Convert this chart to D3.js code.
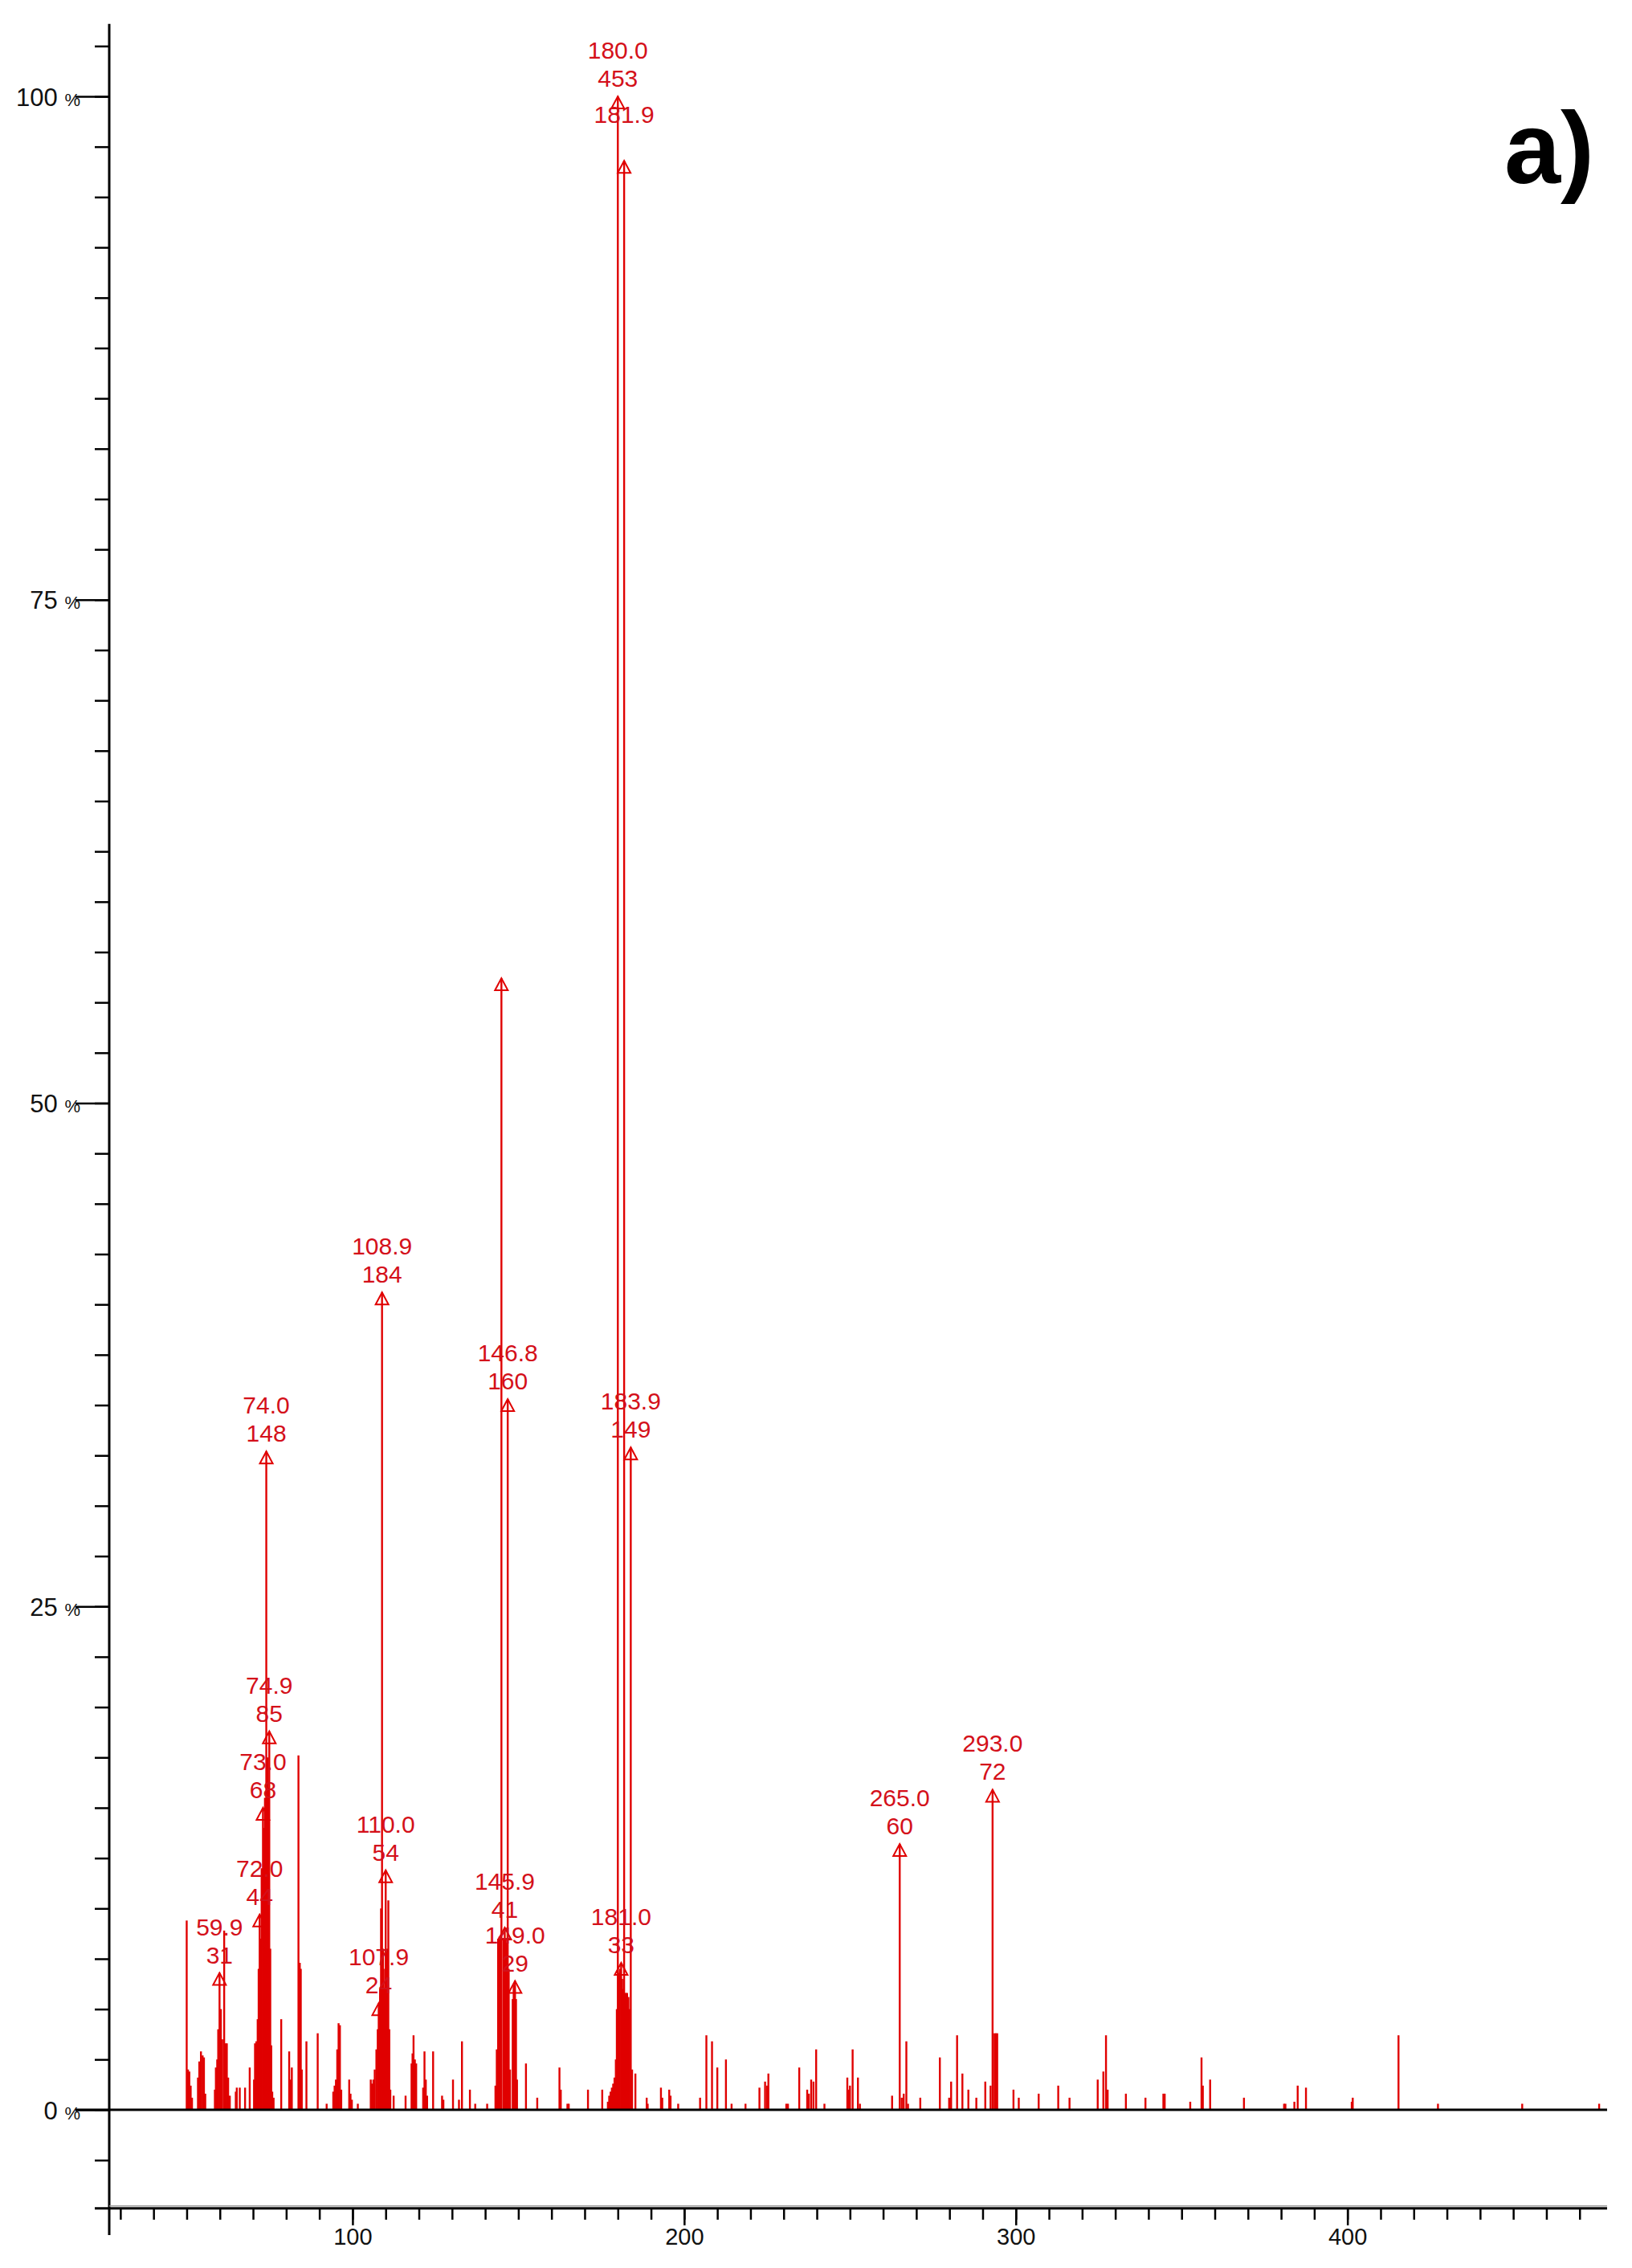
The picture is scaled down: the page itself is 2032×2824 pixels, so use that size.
<!DOCTYPE html>
<html><head><meta charset="utf-8">
<script src="https://cdn.jsdelivr.net/npm/d3@7"></script>
<style>html,body{margin:0;padding:0;background:#fff;} svg{display:block;}</style>
</head><body>
<svg id="chart" width="2032" height="2824"></svg>
<script>
// ---------- DATA ----------
// unlabeled spectrum lines: m/z and relative intensity (%)
const peakMz = [
  50.0,50.4,50.8,51.2,51.6, 53.4,53.8,54.3,54.8,55.2,55.6,
  58.5,58.8,59.2,59.5,60.3,60.7,61.3,61.7,62.1,62.5,63.0,
  64.8,65.1,66.0,67.6,69.0,
  70.3,70.6,71.0,71.4,71.7,72.3,72.6,73.3,73.6,74.3,74.6,75.2,75.5,75.8,76.2,
  78.5,80.9,81.3,81.7,83.7,84.1,84.4,84.7,86.1,89.5,92.2,
  94.2,94.6,95.0,95.4,95.8,96.2,96.6,99.0,99.4,99.8,101.6,
  105.5,105.9,106.3,106.7,107.2,107.6,108.3,108.6,109.2,109.5,109.8,110.4,110.8,111.1,111.4,112.4,
  116.0,117.8,118.1,118.4,118.8,119.2,121.3,121.7,122.1,122.5,124.3,127.0,127.4,130.3,132.1,133.0,135.4,137.0,140.6,
  143.1,143.5,143.9,144.3,144.6,145.5,146.2,146.5,147.1,147.5,148.3,148.6,149.3,149.6,
  152.3,155.7,162.4,162.8,164.8,165.2,171.0,175.3,
  177.0,177.4,177.8,178.2,178.6,179.0,179.4,179.7,180.3,180.6,181.3,181.6,182.2,182.5,182.8,183.2,183.5,184.3,185.3,
  188.7,189.0,193.0,193.4,195.5,195.9,198.2,204.8,206.7,208.4,210.0,212.6,214.3,218.5,
  222.7,224.4,225.0,225.4,230.8,231.3,234.7,237.1,237.6,238.3,239.0,239.8,242.3,
  249.2,249.6,250.0,250.8,252.4,253.0,262.7,265.6,266.2,267.0,267.5,271.2,
  277.1,279.9,280.5,282.3,283.9,285.7,288.1,290.8,292.4,293.6,294.0,294.4,299.3,300.9,306.9,
  312.8,316.2,324.7,326.4,327.2,327.7,333.2,339.1,344.5,344.9,352.6,356.0,356.4,358.6,368.8,
  380.9,381.3,384.0,385.0,387.5,401.3,401.6,415.4,427.3,452.7,475.9
];
const peakPct = [
  9.4,2.0,1.9,1.2,0.6, 1.6,2.4,2.9,2.7,2.6,0.8,
  1.0,2.1,2.5,4.0,5.0,3.5,8.9,3.3,3.3,1.6,0.7,
  0.9,1.1,1.1,1.1,2.1,
  1.5,3.3,3.4,4.5,7.0,8.5,12.0,14.0,15.5,17.5,16.0,8.0,3.2,0.9,0.6,
  4.5,2.9,1.5,2.1,17.6,7.3,7.0,2.0,3.4,3.8,0.3,
  0.9,1.2,1.5,3.0,4.3,4.2,1.0,1.5,0.8,0.5,0.3,
  1.5,1.3,1.5,2.0,3.0,4.0,6.0,10.0,8.0,6.0,7.0,8.0,10.4,4.0,1.0,0.7,
  0.7,2.3,2.8,3.7,2.5,2.3,1.1,2.9,1.5,0.7,2.9,0.7,0.5,1.5,0.5,3.4,1.0,0.3,0.3,
  1.2,3.0,8.5,8.6,8.4,8.5,8.5,8.3,7.0,2.0,5.5,6.2,5.5,1.5,
  2.3,0.6,2.1,1.0,0.3,0.3,1.0,1.0,
  0.4,0.7,0.9,1.1,1.3,1.6,2.5,5.0,6.8,7.0,6.5,6.0,5.8,5.8,5.8,5.6,5.0,2.0,1.8,
  0.6,0.3,1.1,0.6,1.0,0.7,0.3,0.6,3.7,3.4,2.1,2.5,0.3,0.3,
  1.1,1.4,1.2,1.8,0.3,0.3,2.1,1.0,0.8,1.5,1.4,3.0,0.3,
  1.6,1.0,1.2,3.0,1.6,0.3,0.7,0.6,0.8,3.4,0.3,0.6,
  2.6,0.6,1.4,3.7,1.8,1.0,0.6,1.4,1.2,3.8,3.8,3.8,1.0,0.6,0.8,
  1.2,0.6,1.5,1.9,3.7,1.0,0.8,0.6,0.8,0.8,0.4,2.6,1.2,1.5,0.6,
  0.3,0.3,0.4,1.2,1.1,0.4,0.6,3.7,0.3,0.3,0.3
];
// annotated peaks (m/z, %, text, ion count)
const labelMz    = [180.0, 181.9, 108.9, 146.8, 183.9, 74.0, 74.9, 73.0, 72.0, 59.9, 110.0, 107.9, 145.9, 149.0, 181.0, 265.0, 293.0];
const labelPct   = [100.0, 96.8, 40.6, 35.3, 32.9, 32.7, 18.8, 15.0, 9.7, 6.8, 11.9, 5.3, 9.05, 6.4, 7.3, 13.2, 15.9];
const labelText  = ["180.0","181.9","108.9","146.8","183.9","74.0","74.9","73.0","72.0","59.9","110.0","107.9","145.9","149.0","181.0","265.0","293.0"];
const labelCount = ["453","","184","160","149","148","85","68","44","31","54","24","41","29","33","60","72"];
// marked peak without text
const markerMz  = [144.9];
const markerPct = [56.2];
// axes
const yMajorTicks = [0, 25, 50, 75, 100];
const yMinorTicks = d3.range(-2.5, 103, 2.5);
const xMajorTicks = [100, 200, 300, 400];
const xMinorTicks = d3.range(30, 480, 10);
const panelTag = "a)";

// ---------- DRAW ----------
const svg = d3.select("#chart");
const red = "#e00000";
const labelRed = "#d4101a";
const x = d3.scaleLinear().domain([26.64, 478.3]).range([136, 2001]);
const y = d3.scaleLinear().domain([0, 100]).range([2627, 120]);
const yTop = y(103.6), xAxisY = y(-4.9);

// peaks
const peaks = peakMz.map((m, i) => ({mz: m, pct: peakPct[i]}));
const labeled = labelMz.map((m, i) => ({mz: m, pct: labelPct[i], text: labelText[i], count: labelCount[i]}));
const markers = markerMz.map((m, i) => ({mz: m, pct: markerPct[i]}));
const lines = peaks.concat(labeled, markers);

svg.append("g").selectAll("line").data(lines).join("line")
  .attr("x1", d => x(d.mz)).attr("x2", d => x(d.mz))
  .attr("y1", y(0)).attr("y2", d => y(d.pct))
  .attr("stroke", red).attr("stroke-width", 2.4);

// triangles
const tri = d => {
  const cx = x(d.mz), cy = y(d.pct);
  return `M${cx},${cy} L${cx - 8},${cy + 15} L${cx + 8},${cy + 15} Z`;
};
svg.append("g").selectAll("path").data(labeled.concat(markers)).join("path")
  .attr("d", tri).attr("fill", "none").attr("stroke", red).attr("stroke-width", 2);

// peak labels
const lab = svg.append("g").attr("font-family", "'Liberation Sans', Arial, sans-serif")
  .attr("font-size", 30).attr("fill", labelRed).attr("text-anchor", "middle");
lab.selectAll("text.mz").data(labeled).join("text").attr("class", "mz")
  .attr("x", d => x(d.mz)).attr("y", d => y(d.pct) - 47).text(d => d.text);
lab.selectAll("text.ct").data(labeled.filter(d => d.count !== "")).join("text").attr("class", "ct")
  .attr("x", d => x(d.mz)).attr("y", d => y(d.pct) - 12).text(d => d.count);

// baseline 0%
svg.append("line").attr("x1", 94).attr("x2", 2001).attr("y1", y(0)).attr("y2", y(0))
  .attr("stroke", "#000").attr("stroke-width", 3);

// y axis
const yMinor = svg.append("g").attr("transform", "translate(136,0)")
  .call(d3.axisLeft(y).tickValues(yMinorTicks).tickSize(18).tickSizeOuter(0).tickFormat(""));
yMinor.select(".domain").remove();
yMinor.selectAll("line").attr("stroke", "#000").attr("stroke-width", 2.5);
const yMajor = svg.append("g").attr("transform", "translate(136,0)")
  .call(d3.axisLeft(y).tickValues(yMajorTicks).tickSize(42).tickSizeOuter(0).tickPadding(0).tickFormat(""));
yMajor.select(".domain").remove();
yMajor.selectAll("line").attr("stroke", "#000").attr("stroke-width", 2.5);
const yl = yMajor.selectAll(".tick").append("text")
  .attr("x", -36).attr("y", 11).attr("text-anchor", "end")
  .attr("font-family", "'Liberation Sans', Arial, sans-serif").attr("font-size", 31).attr("fill", "#111");
yl.append("tspan").text(d => d + " ");
yl.append("tspan").attr("font-size", 22).text("%");

svg.append("line").attr("x1", 136).attr("x2", 136).attr("y1", yTop).attr("y2", 2783)
  .attr("stroke", "#000").attr("stroke-width", 3);

// x axis
svg.append("line").attr("x1", 136).attr("x2", 2001).attr("y1", xAxisY - 3).attr("y2", xAxisY - 3)
  .attr("stroke", "#999").attr("stroke-width", 1.5);
svg.append("line").attr("x1", 118).attr("x2", 2001).attr("y1", xAxisY).attr("y2", xAxisY)
  .attr("stroke", "#000").attr("stroke-width", 3);
const xMinor = svg.append("g").attr("transform", `translate(0,${xAxisY})`)
  .call(d3.axisBottom(x).tickValues(xMinorTicks).tickSize(14).tickSizeOuter(0).tickFormat(""));
xMinor.select(".domain").remove();
xMinor.selectAll("line").attr("stroke", "#000").attr("stroke-width", 2.5);
const xMajor = svg.append("g").attr("transform", `translate(0,${xAxisY})`)
  .call(d3.axisBottom(x).tickValues(xMajorTicks).tickSize(21).tickSizeOuter(0).tickPadding(4).tickFormat(d3.format("d")));
xMajor.select(".domain").remove();
xMajor.selectAll("line").attr("stroke", "#000").attr("stroke-width", 2.5);
xMajor.selectAll("text").attr("font-family", "'Liberation Sans', Arial, sans-serif")
  .attr("font-size", 29).attr("fill", "#111");

// panel tag
svg.append("text").attr("x", 1985).attr("y", 228).attr("text-anchor", "end")
  .attr("font-family", "'Liberation Sans', Arial, sans-serif").attr("font-weight", "bold")
  .attr("font-size", 126).attr("fill", "#000").text(panelTag);
</script>
</body></html>
